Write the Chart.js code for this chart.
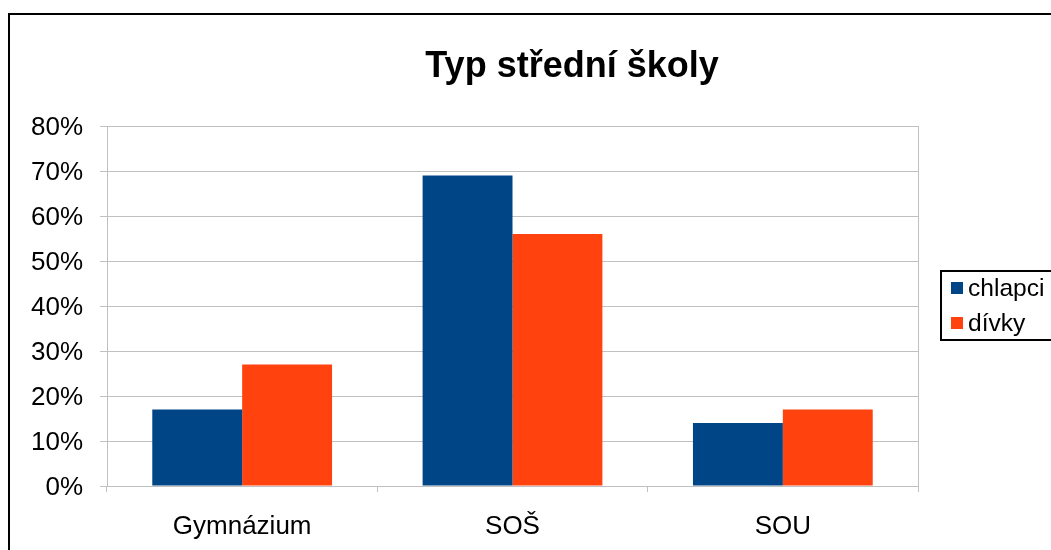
<!DOCTYPE html>
<html>
<head>
<meta charset="utf-8">
<script src="https://cdn.jsdelivr.net/npm/chart.js@4.4.1/dist/chart.umd.min.js"></script>
<style>
  html, body { margin: 0; padding: 0; background: #fff; }
  #wrap { width: 1051px; height: 550px; position: relative; }
</style>
</head>
<body>
<div id="wrap"><canvas id="myChart" width="1051" height="550"></canvas></div>
<script>
const chartTitle = 'Typ střední školy';
const categories = ['Gymnázium', 'SOŠ', 'SOU'];
const seriesNames = ['chlapci', 'dívky'];
const chlapci = [17, 69, 14];
const divky = [27, 56, 17];
const yTicks = [0, 10, 20, 30, 40, 50, 60, 70, 80];

const colors = ['#004586', '#ff420e'];
const fontFamily = '"Liberation Sans", Arial, sans-serif';

// frame, title, plot border and boxed legend
const decorations = {
  id: 'decorations',
  beforeDraw(chart) {
    const c = chart.ctx;
    c.save();
    c.fillStyle = '#fff';
    c.fillRect(0, 0, chart.width, chart.height);
    c.strokeStyle = '#000';
    c.lineWidth = 2;
    c.strokeRect(9, 14, chart.width + 20, chart.height + 20);

    c.fillStyle = '#000';
    c.font = 'bold 36px ' + fontFamily;
    c.textAlign = 'center';
    c.textBaseline = 'alphabetic';
    c.fillText(chartTitle, 572, 77);
    c.restore();
  },
  afterDraw(chart) {
    const c = chart.ctx;
    const a = chart.chartArea;
    c.save();
    c.strokeStyle = '#c0c0c0';
    c.lineWidth = 1;
    c.beginPath();
    c.moveTo(Math.round(a.right) + 0.5, a.top);
    c.lineTo(Math.round(a.right) + 0.5, a.bottom);
    c.stroke();

    // legend
    c.strokeStyle = '#000';
    c.lineWidth = 2;
    c.strokeRect(941, 271, 130, 69);
    c.font = '24.6px ' + fontFamily;
    c.textBaseline = 'middle';
    chart.data.datasets.forEach((ds, i) => {
      const y = 288 + i * 35;
      c.fillStyle = ds.backgroundColor;
      c.fillRect(951, y - 6, 12, 12);
      c.fillStyle = '#000';
      c.fillText(ds.label, 968, y + 1);
    });
    c.restore();
  }
};

const ctx = document.getElementById('myChart').getContext('2d');
const myChart = new Chart(ctx, {
  type: 'bar',
  data: {
    labels: categories,
    datasets: [
      { label: seriesNames[0], data: chlapci, backgroundColor: colors[0] },
      { label: seriesNames[1], data: divky, backgroundColor: colors[1] }
    ]
  },
  options: {
    responsive: false,
    animation: false,
    devicePixelRatio: 1,
    layout: { padding: { left: 10, right: 133, top: 126, bottom: 0 } },
    datasets: {
      bar: { categoryPercentage: 0.665, barPercentage: 1.0, borderWidth: 0 }
    },
    plugins: {
      legend: { display: false },
      tooltip: { enabled: false },
      title: { display: false }
    },
    scales: {
      x: {
        grid: {
          offset: true,
          drawOnChartArea: false,
          drawTicks: true,
          tickLength: 6,
          color: '#c0c0c0'
        },
        border: { color: '#c0c0c0' },
        ticks: {
          color: '#000',
          padding: 19,
          font: { family: fontFamily, size: 26 }
        },
        afterFit(scale) { scale.height = 64; }
      },
      y: {
        min: 0,
        max: 80,
        afterBuildTicks(scale) {
          scale.ticks = yTicks.map(v => ({ value: v }));
        },
        grid: { color: '#c0c0c0', tickLength: 7 },
        border: { color: '#c0c0c0' },
        ticks: {
          color: '#000',
          padding: 17,
          labelOffset: 2,
          font: { family: fontFamily, size: 26 },
          callback: v => v + '%'
        },
        afterFit(scale) { scale.width = 97; }
      }
    }
  },
  plugins: [decorations]
});
</script>
</body>
</html>
